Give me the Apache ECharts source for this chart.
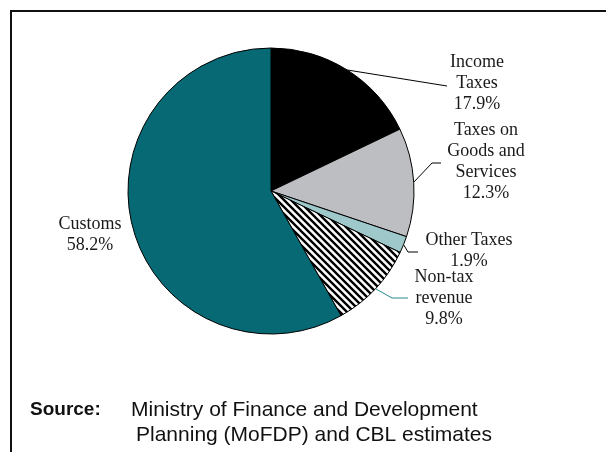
<!DOCTYPE html>
<html>
<head>
<meta charset="utf-8">
<script src="https://cdn.jsdelivr.net/npm/echarts@6/dist/echarts.min.js"></script>
<style>
  html, body { margin: 0; padding: 0; background: #fff; }
  #chart { width: 606px; height: 452px; }
</style>
</head>
<body>
<div id="chart"></div>
<script>
// Revenue composition (share of total, %)
const categories = ['Income\nTaxes', 'Taxes on\nGoods and\nServices', 'Other Taxes', 'Non-tax\nrevenue', 'Customs'];
const shares = [17.9, 12.3, 1.9, 9.8, 58.2];
const sliceColors = ['#000000', '#bdbec2', '#9fc8cb', null, '#066973'];

// Label anchors and leader-line bends for each slice
const labelSpots = [
  { x: 477, y: 83,  bend: null,        end: [447, 86] },
  { x: 486, y: 162, bend: [432, 163],  end: [441, 163] },
  { x: 469, y: 251, bend: [408, 252],  end: [418, 252] },
  { x: 444, y: 298, bend: [392, 298],  end: [408, 298] },
  { x: 90,  y: 235, bend: null,        end: null }
];

// Diagonal hatch used for the non-tax slice
function hatchPattern() {
  const n = 7;
  const c = document.createElement('canvas');
  c.width = n; c.height = n;
  const g = c.getContext('2d');
  g.fillStyle = '#ffffff';
  g.fillRect(0, 0, n, n);
  g.strokeStyle = '#000000';
  g.lineWidth = 2.4;
  g.beginPath();
  g.moveTo(-1, -1); g.lineTo(n + 1, n + 1);
  g.moveTo(-2, n - 2); g.lineTo(2, n + 2);
  g.moveTo(n - 2, -2); g.lineTo(n + 2, 2);
  g.stroke();
  return c;
}

const hatch = hatchPattern();

const data = categories.map((name, i) => {
  const item = {
    name: name,
    value: shares[i],
    itemStyle: {
      color: sliceColors[i] ? sliceColors[i] : { image: hatch, repeat: 'repeat' }
    }
  };
  if (i === 3) item.labelLine = { lineStyle: { color: '#2a8890' } };
  if (i === 4) item.labelLine = { show: false };
  return item;
});

const chart = echarts.init(document.getElementById('chart'), null, { renderer: 'canvas' });

chart.setOption({
  animation: false,
  backgroundColor: '#ffffff',
  series: [{
    type: 'pie',
    center: [271, 191],
    radius: 143,
    startAngle: 90,
    clockwise: true,
    avoidLabelOverlap: false,
    data: data,
    itemStyle: { borderColor: '#000000', borderWidth: 1 },
    emphasis: { disabled: true },
    label: {
      show: true,
      position: 'outside',
      formatter: p => p.name + '\n' + p.value.toFixed(1) + '%',
      fontFamily: 'Liberation Serif',
      fontSize: 18,
      lineHeight: 21,
      color: '#1a1a1a',
      align: 'center'
    },
    labelLine: {
      show: true,
      length: 10,
      length2: 10,
      lineStyle: { color: '#000000', width: 1 }
    },
    labelLayout: function (params) {
      const spot = labelSpots[params.dataIndex];
      const out = { x: spot.x, y: spot.y, align: 'center', verticalAlign: 'middle' };
      if (spot.end && params.labelLinePoints) {
        const start = params.labelLinePoints[0];
        const pts = [[start[0], start[1]]];
        if (spot.bend) pts.push(spot.bend);
        pts.push(spot.end);
        out.labelLinePoints = pts;
      }
      return out;
    }
  }],
  graphic: [
    { type: 'line', shape: { x1: 10, y1: 11, x2: 606, y2: 11 }, style: { stroke: '#111', lineWidth: 2 } },
    { type: 'line', shape: { x1: 11, y1: 10, x2: 11, y2: 452 }, style: { stroke: '#111', lineWidth: 2 } },
    { type: 'text', x: 30, y: 410, style: { text: 'Source:', font: 'bold 19px "Liberation Sans"', fill: '#111', textVerticalAlign: 'middle' } },
    { type: 'text', x: 131, y: 410, style: { text: 'Ministry of Finance and Development', font: '21px "Liberation Sans"', fill: '#111', textVerticalAlign: 'middle' } },
    { type: 'text', x: 136, y: 435, style: { text: 'Planning (MoFDP) and CBL estimates', font: '21px "Liberation Sans"', fill: '#111', textVerticalAlign: 'middle' } }
  ]
});
</script>
</body>
</html>
